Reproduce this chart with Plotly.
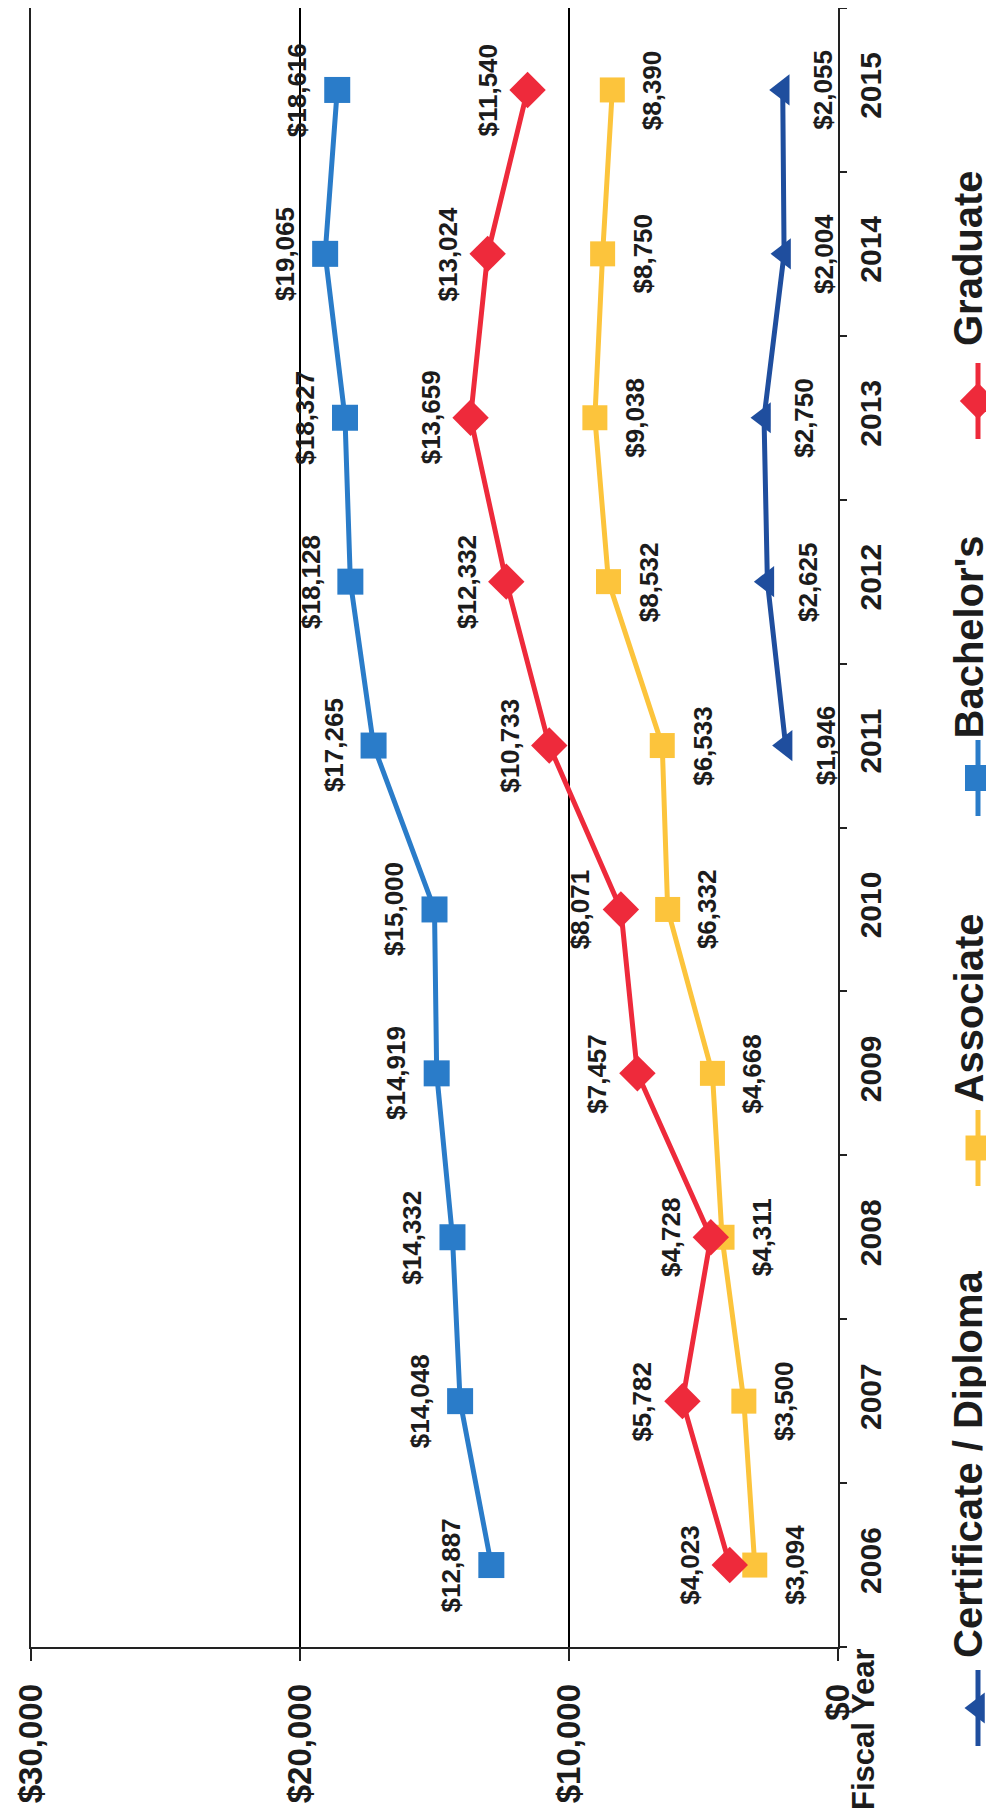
import plotly.graph_objects as go

# ---------------- data ----------------
years = ['2006', '2007', '2008', '2009', '2010', '2011', '2012', '2013', '2014', '2015']
bachelors = [12887, 14048, 14332, 14919, 15000, 17265, 18128, 18327, 19065, 18616]
graduate = [4023, 5782, 4728, 7457, 8071, 10733, 12332, 13659, 13024, 11540]
associate = [3094, 3500, 4311, 4668, 6332, 6533, 8532, 9038, 8750, 8390]
cert_years = ['2011', '2012', '2013', '2014', '2015']
certificate = [1946, 2625, 2750, 2004, 2055]

value_ticks = [0, 10000, 20000, 30000]
value_tick_labels = ['$0', '$10,000', '$20,000', '$30,000']

series_names = ['Certificate / Diploma', 'Associate', "Bachelor's", 'Graduate']

# ---------------- styles ----------------
FONT = 'Liberation Sans, Arial, sans-serif'
TXT = '#1c1c1c'
C_CERT = '#1F4E9E'
C_ASSOC = '#FCC43C'
C_BACH = '#2A7CC9'
C_GRAD = '#EE2A3B'

W, H = 994, 1820
x_dom = [23 / W, 830 / W]
y_dom = [181 / H, 1.0]

series = [
    dict(name=series_names[0], x=certificate, y=cert_years, color=C_CERT, symbol='triangle-left', size=27, side=1),
    dict(name=series_names[1], x=associate, y=years, color=C_ASSOC, symbol='square', size=25, side=1),
    dict(name=series_names[2], x=bachelors, y=years, color=C_BACH, symbol='square', size=26, side=-1),
    dict(name=series_names[3], x=graduate, y=years, color=C_GRAD, symbol='diamond', size=28, side=-1),
]

fig = go.Figure()
annotations = []
for s in series:
    fig.add_trace(go.Scatter(
        x=s['x'], y=s['y'], mode='lines+markers', name=s['name'],
        line=dict(color=s['color'], width=5),
        marker=dict(symbol=s['symbol'], size=s['size'], color=s['color'], opacity=1, line=dict(width=0)),
        cliponaxis=False, showlegend=False, hoverinfo='skip'))
    for v, yr in zip(s['x'], s['y']):
        annotations.append(dict(
            x=v, y=years.index(yr), xref='x', yref='y', text='${:,}'.format(v), showarrow=False,
            textangle=-90, xanchor='center', yanchor='middle', xshift=40 * s['side'],
            font=dict(family=FONT, size=26, color=TXT, weight='bold')))

# ---------------- legend (drawn rotated, on an overlay pixel axis) ----------------
legend_centers = [1700, 1140, 770, 393]
legend_text_bottom = [1652, 1097, 733, 340]
LEG_X = 970
LEG_TEXT_X = 960
for s, c, tb in zip(series, legend_centers, legend_text_bottom):
    fig.add_trace(go.Scatter(
        x=[LEG_X, LEG_X], y=[c - 38, c + 38], mode='lines',
        xaxis='x2', yaxis='y2', line=dict(color=s['color'], width=5),
        cliponaxis=False, showlegend=False, hoverinfo='skip'))
    fig.add_trace(go.Scatter(
        x=[LEG_X], y=[c], mode='markers', xaxis='x2', yaxis='y2',
        marker=dict(symbol=s['symbol'], size=s['size'], color=s['color'], opacity=1, line=dict(width=0)),
        cliponaxis=False, showlegend=False, hoverinfo='skip'))
    annotations.append(dict(
        x=LEG_TEXT_X, y=tb, xref='x2', yref='y2', text=s['name'], showarrow=False,
        textangle=-90, xanchor='center', yanchor='bottom',
        font=dict(family=FONT, size=40, color=TXT, weight='bold')))

annotations.append(dict(
    x=855, y=1722, xref='x2', yref='y2', text='Fiscal Year', showarrow=False,
    textangle=-90, xanchor='center', yanchor='middle',
    font=dict(family=FONT, size=31, color=TXT, weight='bold')))

fig.update_layout(
    width=W, height=H,
    margin=dict(l=0, r=0, t=0, b=0, autoexpand=False),
    paper_bgcolor='white', plot_bgcolor='rgba(0,0,0,0)',
    showlegend=False,
    annotations=annotations,
    xaxis=dict(
        domain=x_dom, range=[30000, 0], tickmode='array',
        tickvals=value_ticks, ticktext=value_tick_labels,
        tickangle=-90, ticks='outside', ticklen=12, tickwidth=1.5, tickcolor='#222',
        ticklabelstandoff=10, automargin=False,
        tickfont=dict(family=FONT, size=33, color=TXT, weight='bold'),
        showgrid=True, gridcolor='#000', gridwidth=1.5,
        showline=True, linecolor='#222', linewidth=1.5, mirror=True,
        zeroline=False, anchor='y'),
    yaxis=dict(
        domain=y_dom, type='category', categoryorder='array', categoryarray=years,
        range=[-0.5, 9.5], side='right', tickangle=-90,
        ticks='outside', tickson='boundaries', ticklen=7, tickwidth=1.5, tickcolor='#222',
        ticklabelstandoff=5, automargin=False,
        tickfont=dict(family=FONT, size=30, color=TXT, weight='bold'),
        showgrid=False, showline=True, linecolor='#222', linewidth=1.5, mirror=True,
        zeroline=False, anchor='x'),
    xaxis2=dict(domain=[0, 1], range=[0, W], visible=False, anchor='y2', fixedrange=True, automargin=False),
    yaxis2=dict(domain=[0, 1], range=[H, 0], visible=False, anchor='x2', fixedrange=True, automargin=False),
)

fig.write_html('out.html')
